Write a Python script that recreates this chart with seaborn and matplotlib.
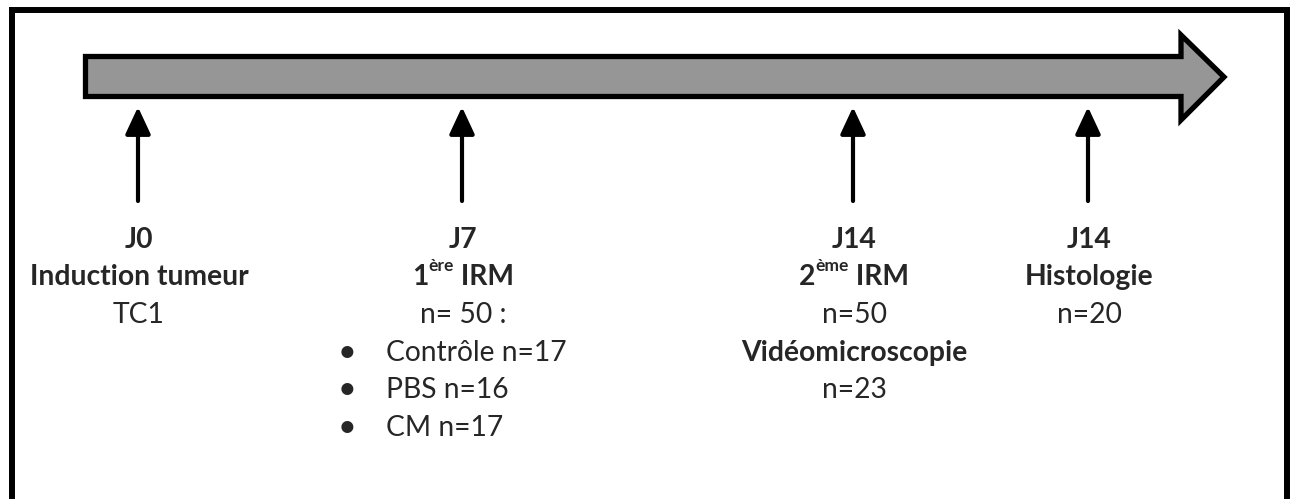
import matplotlib
matplotlib.use("Agg")
import matplotlib.pyplot as plt
from matplotlib.patches import Polygon
import seaborn as sns

sns.set_theme(style="white")
plt.rcParams['font.family'] = ['Lato', 'DejaVu Sans']

W, H = 1298, 499

# ---- data ----
days = ["J0", "J7", "J14", "J14"]
col_x = [139, 463, 854, 1089]
titles = [["Induction tumeur"], [("1", "ère", " IRM")], [("2", "ème", " IRM")], ["Histologie"]]
counts = [["TC1"], ["n= 50 :"], ["n=50"], ["n=20"]]
extra_title = [None, None, "Vidéomicroscopie", None]
extra_count = [None, None, "n=23", None]
groups = ["Contrôle", "PBS", "CM"]
group_n = [17, 16, 17]

FS = 20.3
row_y0 = 239.5
row_dy = 37.7

fig = plt.figure(figsize=(W / 100, H / 100), dpi=100)
ax = fig.add_axes([0, 0, 1, 1])
ax.set_xlim(0, W)
ax.set_ylim(H, 0)
ax.axis('off')

# frame
ax.plot([12, 12, 1286.5, 1286.5], [H + 10, 9.5, 9.5, H + 10], color='black', lw=4.3,
        solid_joinstyle='miter', clip_on=False)

# big arrow
verts = [(85.5, 56.5), (1181, 56.5), (1181, 35), (1224, 77), (1181, 120),
         (1181, 96.5), (85.5, 96.5)]
ax.add_patch(Polygon(verts, closed=True, facecolor='#969696', edgecolor='black',
                     lw=3.8, joinstyle='miter'))

# small arrows
for x in col_x:
    ax.annotate('', xy=(x - 1, 107), xytext=(x - 1, 201),
                arrowprops=dict(arrowstyle='-|>,head_length=0.75,head_width=0.35',
                                lw=3, color='black', shrinkA=0, shrinkB=0,
                                mutation_scale=22))

fig.canvas.draw()
renderer = fig.canvas.get_renderer()


def text_width(s, size, weight):
    t = ax.text(0, 0, s, fontsize=size, fontweight=weight)
    bb = t.get_window_extent(renderer)
    t.remove()
    return bb.width


def sup_line(x, y, parts, size=FS):
    base, sup, rest = parts
    ssize = size * 0.62
    w1 = text_width(base, size, 'bold')
    w2 = text_width(sup, ssize, 'bold')
    w3 = text_width(rest, size, 'bold')
    x0 = x - (w1 + w2 + w3) / 2
    ax.text(x0, y, base, fontsize=size, fontweight='bold', ha='left', va='center')
    ax.text(x0 + w1, y - 11, sup, fontsize=ssize, fontweight='bold', ha='left', va='center')
    ax.text(x0 + w1 + w2, y, rest, fontsize=size, fontweight='bold', ha='left', va='center')


for i, x in enumerate(col_x):
    y = row_y0
    ax.text(x, y, days[i], fontsize=FS, fontweight='bold', ha='center', va='center')
    y += row_dy
    for t in titles[i]:
        if isinstance(t, tuple):
            sup_line(x, y, t)
        else:
            ax.text(x, y, t, fontsize=FS, fontweight='bold', ha='center', va='center')
        y += row_dy
    for c in counts[i]:
        ax.text(x, y, c, fontsize=FS, ha='center', va='center')
        y += row_dy
    if extra_title[i]:
        ax.text(x, y, extra_title[i], fontsize=FS, fontweight='bold', ha='center', va='center')
        y += row_dy
        ax.text(x, y, extra_count[i], fontsize=FS, ha='center', va='center')

# bullet list under J7
for k, (g, n) in enumerate(zip(groups, group_n)):
    y = row_y0 + row_dy * (3 + k)
    ax.text(347, y, "•", fontsize=FS * 1.15, ha='center', va='center')
    ax.text(386, y, f"{g} n={n}", fontsize=FS, ha='left', va='center')

fig.savefig("out.png", dpi=100)
